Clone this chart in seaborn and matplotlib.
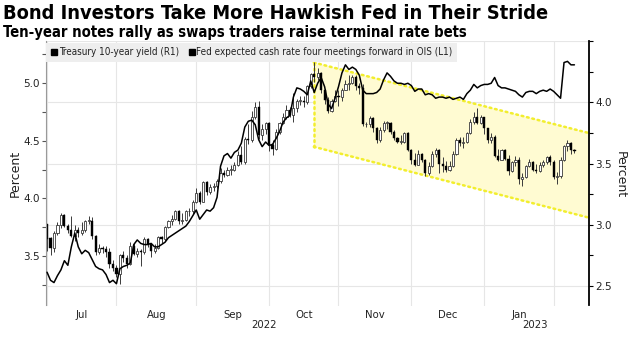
import numpy as np
import pandas as pd
import matplotlib
matplotlib.use("Agg")
import matplotlib.pyplot as plt
import seaborn as sns
from matplotlib.lines import Line2D
from matplotlib.patches import Polygon

# ---------------- data ----------------
title = "Bond Investors Take More Hawkish Fed in Their Stride"
subtitle = "Ten-year notes rally as swaps traders raise terminal rate bets"
legend_labels = ["Treasury 10-year yield (R1)",
                 "Fed expected cash rate four meetings forward in OIS (L1)"]
start_date = "2022-07-01"
end_date = "2023-02-09"
holidays = ["2022-07-04", "2022-09-05", "2022-10-10", "2022-11-24",
            "2022-12-26", "2023-01-02", "2023-01-16"]
month_names = ["Jul", "Aug", "Sep", "Oct", "Nov", "Dec", "Jan"]
year_labels = ["2022", "2023"]
left_ticks = [3.5, 4.0, 4.5, 5.0]
right_ticks = [2.5, 3.0, 3.5, 4.0, 4.5]

# Treasury 10-year yield, daily OHLC (right axis)
t_open = [3.01, 2.89, 2.81, 2.93, 3.00, 3.08, 2.99, 2.96, 2.91, 2.96, 2.93, 2.96, 3.03, 3.03, 2.91, 2.78, 2.81, 2.80, 2.78, 2.68,
          2.65, 2.60, 2.75, 2.73, 2.68, 2.83, 2.76, 2.79, 2.78, 2.88, 2.84, 2.79, 2.81, 2.90, 2.88, 2.98, 3.03, 3.05, 3.11, 3.03, 3.04, 3.11, 3.11,
          3.19, 3.26, 3.19, 3.35, 3.27, 3.31, 3.32, 3.36, 3.42, 3.41, 3.45, 3.45, 3.49, 3.57, 3.51, 3.70, 3.69, 3.88, 3.96, 3.73, 3.78,
          3.83, 3.65, 3.62, 3.76, 3.83, 3.88, 3.94, 3.90, 3.95, 4.01, 4.01, 4.00, 4.13, 4.23, 4.21, 4.24, 4.10, 4.02, 3.93, 4.01,
          4.05, 4.04, 4.10, 4.15, 4.16, 4.21, 4.13, 4.12, 3.82, 3.82, 3.87, 3.79, 3.69, 3.77, 3.83, 3.83, 3.76, 3.71, 3.68, 3.68, 3.75,
          3.61, 3.53, 3.49, 3.58, 3.53, 3.42, 3.48, 3.58, 3.61, 3.50, 3.48, 3.45, 3.48, 3.58, 3.69, 3.67, 3.68, 3.75, 3.84, 3.88, 3.83,
          3.88, 3.79, 3.69, 3.72, 3.56, 3.53, 3.61, 3.54, 3.44, 3.51, 3.53, 3.37, 3.39, 3.48, 3.51, 3.45, 3.44, 3.49, 3.51, 3.55,
          3.51, 3.39, 3.40, 3.53, 3.64, 3.67, 3.61]
t_high = [3.01, 2.90, 2.95, 3.02, 3.10, 3.09, 3.01, 3.07, 3.00, 2.98, 3.02, 3.04, 3.07, 3.06, 2.92, 2.84, 2.83, 2.83, 2.81, 2.71,
          2.67, 2.76, 2.79, 2.75, 2.86, 2.85, 2.81, 2.80, 2.90, 2.89, 2.85, 2.84, 2.91, 2.91, 2.99, 3.04, 3.08, 3.12, 3.12, 3.10, 3.12, 3.14, 3.20,
          3.30, 3.28, 3.36, 3.36, 3.33, 3.34, 3.37, 3.46, 3.45, 3.47, 3.49, 3.51, 3.60, 3.64, 3.72, 3.82, 3.93, 4.00, 4.01, 3.82, 3.84,
          3.84, 3.69, 3.78, 3.84, 3.91, 3.98, 3.96, 4.08, 4.03, 4.05, 4.05, 4.14, 4.24, 4.33, 4.28, 4.25, 4.11, 4.04, 4.03, 4.10,
          4.10, 4.12, 4.18, 4.22, 4.22, 4.22, 4.16, 4.15, 3.84, 3.89, 3.88, 3.80, 3.80, 3.85, 3.85, 3.84, 3.77, 3.72, 3.73, 3.76, 3.76,
          3.62, 3.59, 3.61, 3.59, 3.54, 3.51, 3.60, 3.63, 3.62, 3.55, 3.52, 3.52, 3.60, 3.71, 3.72, 3.72, 3.76, 3.86, 3.92, 3.95, 3.90,
          3.88, 3.79, 3.75, 3.73, 3.62, 3.62, 3.62, 3.57, 3.52, 3.56, 3.55, 3.42, 3.49, 3.54, 3.52, 3.50, 3.51, 3.53, 3.56, 3.57,
          3.53, 3.43, 3.55, 3.65, 3.69, 3.68, 3.62]
t_low = [2.79, 2.75, 2.78, 2.92, 2.97, 2.98, 2.93, 2.90, 2.87, 2.90, 2.92, 2.94, 3.01, 2.88, 2.75, 2.76, 2.77, 2.74, 2.65, 2.62,
         2.57, 2.52, 2.70, 2.65, 2.67, 2.75, 2.74, 2.66, 2.76, 2.82, 2.74, 2.77, 2.80, 2.85, 2.87, 2.97, 3.00, 3.04, 3.01, 3.01, 3.03, 3.07, 3.09,
         3.18, 3.17, 3.19, 3.24, 3.25, 3.28, 3.30, 3.34, 3.39, 3.40, 3.41, 3.44, 3.48, 3.50, 3.50, 3.66, 3.68, 3.86, 3.70, 3.69, 3.74,
         3.60, 3.57, 3.61, 3.74, 3.82, 3.86, 3.88, 3.84, 3.92, 3.98, 3.96, 3.99, 4.12, 4.17, 4.18, 4.08, 3.99, 3.91, 3.92, 4.00,
         3.97, 4.01, 4.10, 4.10, 4.15, 4.10, 4.07, 3.81, 3.80, 3.80, 3.76, 3.67, 3.68, 3.76, 3.78, 3.74, 3.69, 3.67, 3.66, 3.67, 3.60,
         3.50, 3.48, 3.50, 3.51, 3.40, 3.41, 3.47, 3.55, 3.42, 3.43, 3.43, 3.44, 3.47, 3.57, 3.64, 3.63, 3.67, 3.74, 3.82, 3.82, 3.82,
         3.74, 3.67, 3.67, 3.55, 3.52, 3.53, 3.53, 3.41, 3.43, 3.48, 3.33, 3.32, 3.38, 3.47, 3.44, 3.42, 3.43, 3.47, 3.50, 3.49,
         3.37, 3.33, 3.38, 3.52, 3.60, 3.58, 3.59]
t_close = [2.88, 2.81, 2.93, 3.00, 3.08, 2.99, 2.96, 2.91, 2.96, 2.93, 2.96, 3.03, 3.03, 2.91, 2.78, 2.81, 2.80, 2.78, 2.68, 2.65,
           2.60, 2.75, 2.73, 2.68, 2.83, 2.76, 2.79, 2.78, 2.88, 2.84, 2.79, 2.81, 2.90, 2.88, 2.98, 3.03, 3.05, 3.11, 3.03, 3.04, 3.11, 3.11, 3.19,
           3.26, 3.19, 3.35, 3.27, 3.31, 3.32, 3.36, 3.42, 3.41, 3.45, 3.45, 3.49, 3.57, 3.51, 3.70, 3.69, 3.88, 3.96, 3.73, 3.78, 3.83,
           3.65, 3.62, 3.76, 3.83, 3.88, 3.94, 3.90, 3.95, 4.01, 4.01, 4.00, 4.13, 4.23, 4.21, 4.24, 4.10, 4.02, 3.93, 4.01, 4.05,
           4.04, 4.10, 4.15, 4.16, 4.21, 4.13, 4.12, 3.82, 3.82, 3.87, 3.79, 3.69, 3.77, 3.83, 3.83, 3.76, 3.71, 3.68, 3.68, 3.75, 3.61,
           3.53, 3.49, 3.58, 3.53, 3.42, 3.48, 3.58, 3.61, 3.50, 3.48, 3.45, 3.48, 3.58, 3.69, 3.67, 3.68, 3.75, 3.84, 3.88, 3.83, 3.88,
           3.79, 3.69, 3.72, 3.56, 3.53, 3.61, 3.54, 3.44, 3.51, 3.53, 3.37, 3.39, 3.48, 3.51, 3.45, 3.44, 3.49, 3.51, 3.55, 3.51,
           3.39, 3.40, 3.53, 3.64, 3.67, 3.61, 3.60]

# Fed expected cash rate four meetings forward in OIS (left axis)
fed_rate = [3.36, 3.29, 3.27, 3.33, 3.38, 3.46, 3.42, 3.58, 3.70, 3.58, 3.52, 3.55, 3.53, 3.47, 3.41, 3.39, 3.38, 3.34, 3.27, 3.29,
            3.26, 3.39, 3.41, 3.42, 3.44, 3.60, 3.64, 3.61, 3.60, 3.60, 3.61, 3.58, 3.58, 3.60, 3.62, 3.66, 3.68, 3.70, 3.72, 3.74, 3.76, 3.80, 3.85,
            3.90, 3.82, 3.86, 3.90, 3.89, 3.92, 4.01, 4.28, 4.37, 4.39, 4.35, 4.40, 4.42, 4.48, 4.62, 4.67, 4.68, 4.64, 4.51, 4.45, 4.49,
            4.46, 4.47, 4.52, 4.58, 4.66, 4.70, 4.72, 4.88, 4.96, 4.95, 4.93, 4.90, 5.02, 4.92, 5.00, 5.05, 4.97, 4.82, 4.78, 4.87,
            4.97, 5.09, 5.16, 5.12, 5.14, 5.12, 5.07, 4.94, 4.91, 4.91, 4.91, 4.92, 4.95, 5.03, 5.09, 5.06, 5.02, 5.00, 5.00, 4.99, 5.00,
            4.98, 4.93, 4.95, 4.95, 4.90, 4.91, 4.90, 4.87, 4.88, 4.88, 4.87, 4.88, 4.86, 4.87, 4.88, 4.86, 4.91, 4.94, 4.99, 4.96, 4.98,
            4.99, 4.99, 5.00, 5.05, 4.98, 4.96, 4.96, 4.95, 4.94, 4.93, 4.90, 4.88, 4.92, 4.93, 4.93, 4.91, 4.93, 4.94, 4.93, 4.95,
            4.93, 4.90, 4.87, 5.18, 5.19, 5.16, 5.16]

# highlighted downward channel (right-axis values at its left and right ends)
channel_x = [76.9, 156.2]
channel_upper = [4.325, 3.749]
channel_lower = [3.637, 3.058]

# ---------------- build ----------------
dates = pd.bdate_range(start_date, end_date)
dates = dates[~dates.isin(pd.to_datetime(holidays))]
x = np.arange(len(dates))
df = pd.DataFrame({"x": x, "open": t_open, "high": t_high, "low": t_low,
                   "close": t_close, "fed": fed_rate})

months = pd.Series(dates.to_period("M"))
month_starts = months.drop_duplicates().index.to_numpy()
month_mids = [(month_starts[i] + month_starts[i + 1]) / 2 for i in range(len(month_names))]

sns.set_style("white")
plt.rcParams["font.family"] = ["DejaVu Sans"]

W, H = 634, 338
fig = plt.figure(figsize=(W / 100, H / 100), dpi=100)
ax_l_px, ax_r_px, ax_t_px, ax_b_px = 46, 589, 41.1, 305.5
ax = fig.add_axes([ax_l_px / W, 1 - ax_b_px / H, (ax_r_px - ax_l_px) / W, (ax_b_px - ax_t_px) / H])
ax2 = ax.twinx()

# right axis (Treasury)
ax.set_xlim(-0.3, 156.2)
ax.set_ylim(2.341, 4.5)
ax.set_axisbelow(True)

# channel
poly = Polygon([(channel_x[0], channel_upper[0]), (channel_x[1], channel_upper[1]),
                (channel_x[1], channel_lower[1]), (channel_x[0], channel_lower[0])],
               closed=True, facecolor="#fffbd2", edgecolor="none", zorder=1)
ax.add_patch(poly)
dot_kw = dict(color="#f2ee2e", lw=1.8, linestyle=(0, (0.7, 1.5)), zorder=2,
              dash_capstyle="round")
ax.plot(channel_x, channel_upper, **dot_kw)
ax.plot(channel_x, channel_lower, **dot_kw)
ax.plot([channel_x[0], channel_x[0]], [channel_lower[0], channel_upper[0]], **dot_kw)

# candles
up = df[df.close >= df.open]
dn = df[df.close < df.open]
ax.vlines(df.x, df.low, df.high, color="#3a3a3a", lw=0.7, zorder=3)
ax.bar(up.x, np.maximum(up.close - up.open, 0.006), bottom=up.open, width=0.62,
       facecolor="white", edgecolor="#3a3a3a", linewidth=0.6, zorder=4)
ax.bar(dn.x, dn.open - dn.close, bottom=dn.close, width=0.62,
       facecolor="black", edgecolor="black", linewidth=0.3, zorder=4)

ax.yaxis.tick_right()
ax.yaxis.set_label_position("right")
ax.set_yticks(right_ticks)
ax.set_yticklabels([f"{v:.1f}" if v < 4.4 else "" for v in right_ticks])
ax.set_yticks([2.75, 3.25, 3.75, 4.25], minor=True)
ax.tick_params(axis="y", which="both", direction="out", length=3, width=0.8,
               color="black", labelsize=7.5, pad=1.5, labelcolor="#222222",
               right=True, left=False, labelright=True, labelleft=False)
ax.set_xticks(month_mids)
ax.set_xticklabels(month_names)
ax.set_xticks(month_starts, minor=True)
ax.tick_params(axis="x", which="both", length=0, labelsize=7.3, pad=3, labelcolor="#222222")
ax.grid(axis="y", which="major", color="#e6e6e6", lw=0.8)
ax.grid(axis="x", which="minor", color="#e6e6e6", lw=0.8)
ax.grid(axis="x", which="major", visible=False)
for s in ["top", "bottom", "left"]:
    ax.spines[s].set_visible(False)
ax.spines["right"].set_color("black")
ax.spines["right"].set_linewidth(1.3)

# left axis (Fed)
sns.lineplot(data=df, x="x", y="fed", ax=ax2, color="black", linewidth=1.1, zorder=5)
ax2.set_ylim(3.071, 5.366)
ax2.set_xlim(-0.3, 156.2)
ax2.yaxis.tick_left()
ax2.yaxis.set_label_position("left")
ax2.set_yticks(left_ticks)
ax2.set_yticklabels([f"{v:.1f}" for v in left_ticks])
ax2.set_yticks([3.25, 3.75, 4.25, 4.75, 5.25], minor=True)
ax2.tick_params(axis="y", which="both", direction="out", length=3, width=0.8,
                color="#555555", labelsize=7.5, pad=1.5, labelcolor="#222222",
                left=True, right=False, labelleft=True, labelright=False)
ax2.set_xlabel("")
ax2.set_ylabel("")
for s in ["top", "bottom", "right"]:
    ax2.spines[s].set_visible(False)
ax2.spines["left"].set_color("#9a9a9a")
ax2.spines["left"].set_linewidth(0.8)

# year labels
for xv, lab in zip([62.5, 140.6], year_labels):
    ax.text(xv, -0.075, lab, transform=ax.get_xaxis_transform(), ha="center", va="center",
            fontsize=7.3, color="#222222")

# legend
handles = [Line2D([], [], marker="s", color="black", ls="", markersize=4.4) for _ in legend_labels]
leg = ax2.legend(handles, legend_labels, ncol=2, loc="upper left", bbox_to_anchor=(0.0, 0.993),
                 borderaxespad=0.0, frameon=True, fancybox=False, facecolor="#eeeeee",
                 edgecolor="none", framealpha=1, fontsize=7.1, handletextpad=0.05,
                 columnspacing=0.9, handlelength=0.8, borderpad=0.45)
leg.set_zorder(10)
for t in leg.get_texts():
    t.set_color("#222222")
    t.set_fontstretch("condensed")

# titles
fig.text(3 / W, 1 - 4 / H, title, fontsize=14.3, fontweight="bold", va="top", ha="left",
         fontstretch="condensed", color="black")
fig.text(3 / W, 1 - 25 / H, subtitle, fontsize=10.6, fontweight="bold", va="top", ha="left",
         fontstretch="condensed", color="black")
fig.text(15 / W, 1 - 173 / H, "Percent", rotation=90, ha="center", va="center", fontsize=9,
         color="#222222")
fig.text(620 / W, 1 - 175 / H, "Percent", rotation=270, ha="center", va="center", fontsize=9,
         color="#222222")

fig.savefig("out.png", dpi=100)
